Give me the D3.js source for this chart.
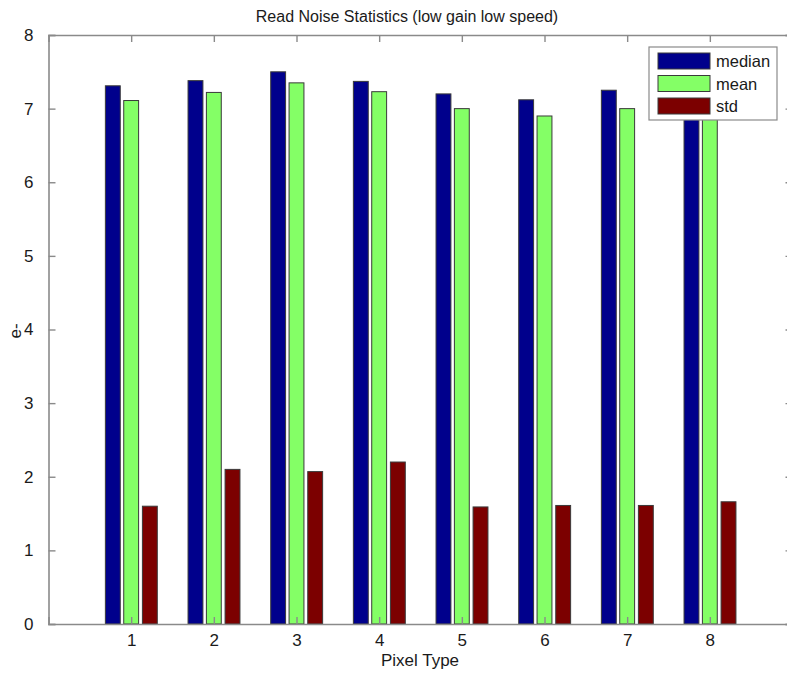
<!DOCTYPE html>
<html>
<head>
<meta charset="utf-8">
<script src="https://cdn.jsdelivr.net/npm/d3@7"></script>
<style>
  html, body { margin: 0; padding: 0; background: #fff; }
  svg { display: block; font-family: Arial, "Liberation Sans", Helvetica, sans-serif; }
</style>
</head>
<body>
<svg id="chart" width="787" height="675"></svg>
<script>
// Read noise per pixel type (electrons)
const pixelTypes = [1, 2, 3, 4, 5, 6, 7, 8];
const medianVals = [7.31, 7.38, 7.50, 7.37, 7.20, 7.12, 7.25, 7.08];
const meanVals   = [7.11, 7.22, 7.35, 7.23, 7.00, 6.90, 7.00, 6.90];
const stdVals    = [1.60, 2.10, 2.07, 2.20, 1.59, 1.61, 1.61, 1.66];
const seriesNames = ["median", "mean", "std"];
const seriesColors = ["#00008c", "#84ff66", "#7c0000"];
const yTicks = [0, 1, 2, 3, 4, 5, 6, 7, 8];

const series = [medianVals, meanVals, stdVals];

const svg = d3.select("#chart");
const plotLeft = 48.5, plotRight = 792.5, plotTop = 35, plotBottom = 624;
const axisColor = "#8a8a8a";
const textColor = "#1a1a1a";

const x = d3.scaleLinear().domain([0, 9]).range([plotLeft, plotRight]);
const y = d3.scaleLinear().domain([0, 8]).range([plotBottom, plotTop]);

// grouped bars: offset and width in x-data units
const groupOffsets = [-0.222, 0, 0.226];
const barWidth = 0.18;

const bars = svg.append("g");
series.forEach((vals, si) => {
  bars.selectAll(null)
    .data(vals.map((v, i) => ({ t: pixelTypes[i], v })))
    .enter().append("rect")
    .attr("x", d => x(d.t + groupOffsets[si] - barWidth / 2))
    .attr("width", d => x(barWidth) - x(0))
    .attr("y", d => y(d.v))
    .attr("height", d => y(0) - y(d.v))
    .attr("fill", seriesColors[si])
    .attr("stroke", "#3a3a3a")
    .attr("stroke-width", 1);
});

// box axes with inward ticks
const tickLen = 7;
const axes = svg.append("g");
const bottomAxis = d3.axisBottom(x).tickValues(pixelTypes).tickSize(-tickLen).tickPadding(10).tickFormat(d3.format("d"));
const topAxis = d3.axisTop(x).tickValues(pixelTypes).tickSize(-tickLen).tickFormat("");
const leftAxis = d3.axisLeft(y).tickValues(yTicks).tickSize(-tickLen).tickPadding(8 + tickLen).tickFormat(d3.format("d"));
const rightAxis = d3.axisRight(y).tickValues(yTicks).tickSize(-tickLen).tickFormat("");

axes.append("g").attr("transform", `translate(0,${plotBottom})`).call(bottomAxis);
axes.append("g").attr("transform", `translate(0,${plotTop})`).call(topAxis);
axes.append("g").attr("transform", `translate(${plotLeft},0)`).call(leftAxis);
axes.append("g").attr("transform", `translate(${plotRight},0)`).call(rightAxis);

axes.selectAll(".domain").attr("stroke", axisColor).attr("stroke-width", 1.6);
axes.selectAll(".tick line").attr("stroke", axisColor).attr("stroke-width", 1.4);
axes.selectAll(".tick text")
  .attr("fill", textColor)
  .style("font-size", "17px")
  .style("font-family", "Arial, 'Liberation Sans', sans-serif");

// title and axis labels
svg.append("text")
  .attr("x", 407).attr("y", 22)
  .attr("text-anchor", "middle")
  .attr("fill", textColor)
  .style("font-size", "16px")
  .text("Read Noise Statistics (low gain low speed)");

svg.append("text")
  .attr("x", 420).attr("y", 666)
  .attr("text-anchor", "middle")
  .attr("fill", textColor)
  .style("font-size", "17px")
  .text("Pixel Type");

svg.append("text")
  .attr("transform", "translate(21,331) rotate(-90)")
  .attr("text-anchor", "middle")
  .attr("fill", textColor)
  .style("font-size", "17px")
  .text("e-");

// legend
const legend = svg.append("g").attr("transform", "translate(649,47)");
legend.append("rect")
  .attr("width", 128).attr("height", 73)
  .attr("fill", "#fff")
  .attr("stroke", "#8a8a8a")
  .attr("stroke-width", 1.2);
seriesNames.forEach((name, i) => {
  const row = legend.append("g").attr("transform", `translate(9,${6 + i * 22.5})`);
  row.append("rect")
    .attr("width", 52).attr("height", 16)
    .attr("fill", seriesColors[i])
    .attr("stroke", "#3a3a3a").attr("stroke-width", 1);
  row.append("text")
    .attr("x", 58).attr("y", 14)
    .attr("fill", textColor)
    .style("font-size", "16.5px")
    .text(name);
});
</script>
</body>
</html>
